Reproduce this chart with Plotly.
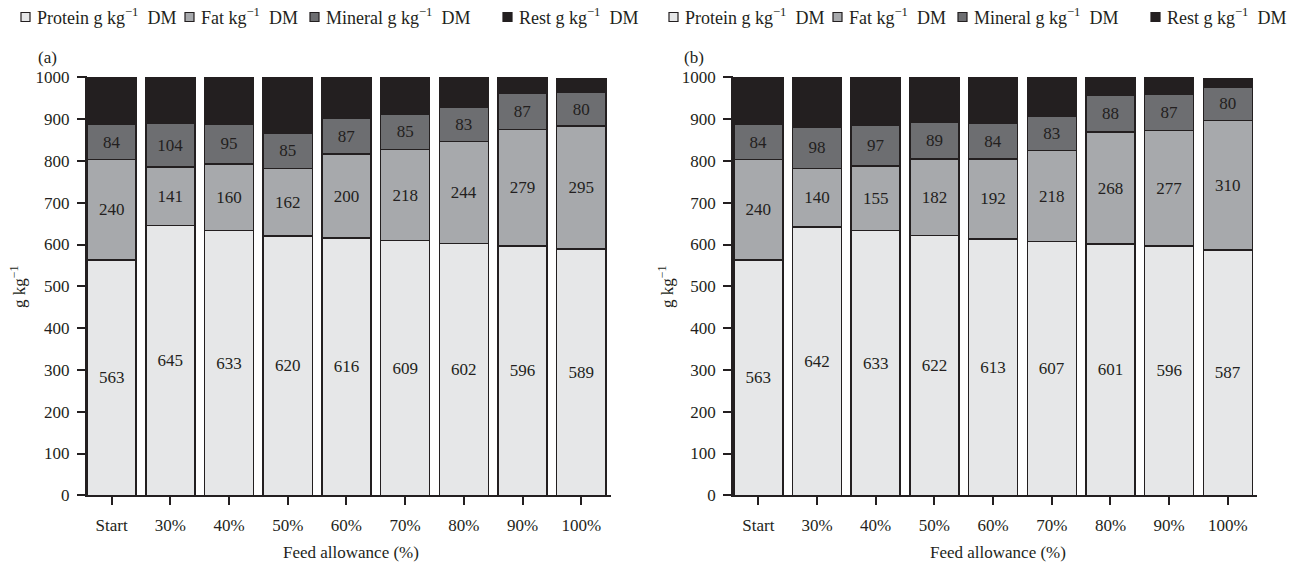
import plotly.graph_objects as go

categories = ["Start", "30%", "40%", "50%", "60%", "70%", "80%", "90%", "100%"]

# Panel (a)
protein_a = [563, 645, 633, 620, 616, 609, 602, 596, 589]
fat_a = [240, 141, 160, 162, 200, 218, 244, 279, 295]
mineral_a = [84, 104, 95, 85, 87, 85, 83, 87, 80]
rest_a = [113, 110, 112, 133, 97, 88, 71, 38, 32]

# Panel (b)
protein_b = [563, 642, 633, 622, 613, 607, 601, 596, 587]
fat_b = [240, 140, 155, 182, 192, 218, 268, 277, 310]
mineral_b = [84, 98, 97, 89, 84, 83, 88, 87, 80]
rest_b = [113, 120, 115, 107, 111, 92, 43, 40, 19]

series_names = ["Protein g kg<sup>−1</sup>\u00a0 DM", "Fat kg<sup>−1</sup>\u00a0 DM",
                "Mineral g kg<sup>−1</sup>\u00a0 DM", "Rest g kg<sup>−1</sup>\u00a0 DM"]
colors = ["#e6e7e8", "#a7a9ac", "#6d6e71", "#231f20"]
y_ticks = [0, 100, 200, 300, 400, 500, 600, 700, 800, 900, 1000]

FONT = "Liberation Serif"
INK = "#231f20"
W, H = 1291, 564


def px_x(p):
    return p / W


def px_y(p):
    return 1 - p / H


fig = go.Figure()

panels = [
    ("x", "y", [protein_a, fat_a, mineral_a, rest_a]),
    ("x2", "y2", [protein_b, fat_b, mineral_b, rest_b]),
]
x_idx = list(range(len(categories)))
for xa, ya, data in panels:
    for i, (vals, name, col) in enumerate(zip(data, series_names, colors)):
        kw = {}
        if i < 3:
            kw = dict(text=[str(v) for v in vals], textposition="inside",
                      insidetextanchor="middle", textangle=0, constraintext="none",
                      textfont=dict(family=FONT, size=17, color=INK))
        fig.add_trace(go.Bar(
            x=x_idx, y=vals, name=name, xaxis=xa, yaxis=ya,
            width=0.835,
            marker=dict(color=col, line=dict(color=INK, width=1.5)),
            showlegend=False, hoverinfo="x+y+name", **kw,
        ))

ybot, ytop = px_y(495.3), px_y(76.05)
axis_common = dict(showgrid=False, zeroline=False, showline=True, linecolor=INK, linewidth=1.5,
                   ticks="outside", ticklen=8, tickwidth=1.5, tickcolor=INK,
                   tickfont=dict(family=FONT, size=17, color=INK), automargin=False)

fig.update_layout(
    barmode="stack",
    width=W, height=H,
    margin=dict(l=0, r=0, t=0, b=0),
    paper_bgcolor="white", plot_bgcolor="white",
    showlegend=False,
    xaxis=dict(domain=[px_x(86.7), px_x(610.6)], range=[-0.425, 8.5], tickvals=x_idx, ticktext=categories,
               anchor="y", ticklabelstandoff=6, **axis_common),
    yaxis=dict(domain=[ybot, ytop], range=[0, 1003], tickvals=y_ticks, anchor="x",
               ticklabelstandoff=4, **axis_common),
    xaxis2=dict(domain=[px_x(733), px_x(1257.2)], range=[-0.431, 8.5], tickvals=x_idx, ticktext=categories,
                anchor="y2", ticklabelstandoff=6, **axis_common),
    yaxis2=dict(domain=[ybot, ytop], range=[0, 1003], tickvals=y_ticks, anchor="x2",
                ticklabelstandoff=4, **axis_common),
)

ann_font = dict(family=FONT, size=17, color=INK)
annotations = [
    dict(text="(a)", x=px_x(48), y=px_y(58)),
    dict(text="(b)", x=px_x(694), y=px_y(58)),
    dict(text="g kg<sup>−1</sup>", x=px_x(18), y=px_y(287), textangle=-90),
    dict(text="g kg<sup>−1</sup>", x=px_x(666), y=px_y(287), textangle=-90),
    dict(text="Feed allowance (%)", x=px_x(351), y=px_y(552)),
    dict(text="Feed allowance (%)", x=px_x(998), y=px_y(552)),
]
for a in annotations:
    a.update(xanchor="center", yanchor="middle")

# legend rows drawn as key squares plus text, one row per panel
legend_text_x = [[35, 199, 324, 517], [683, 847, 972, 1165]]
shapes = []
for row in legend_text_x:
    for tx, name, col in zip(row, series_names, colors):
        annotations.append(dict(text=name, x=px_x(tx), y=px_y(16), xanchor="left", yanchor="middle",
                                font=dict(family=FONT, size=18, color=INK)))
        shapes.append(dict(type="rect", xref="paper", yref="paper",
                           x0=px_x(tx - 14), x1=px_x(tx - 5), y0=px_y(21.5), y1=px_y(12.5),
                           fillcolor=col, line=dict(color=INK, width=1.2)))

for a in annotations:
    a.update(xref="paper", yref="paper", showarrow=False)
    a.setdefault("font", ann_font)
fig.update_layout(annotations=annotations, shapes=shapes)

fig.write_html("out.html")
